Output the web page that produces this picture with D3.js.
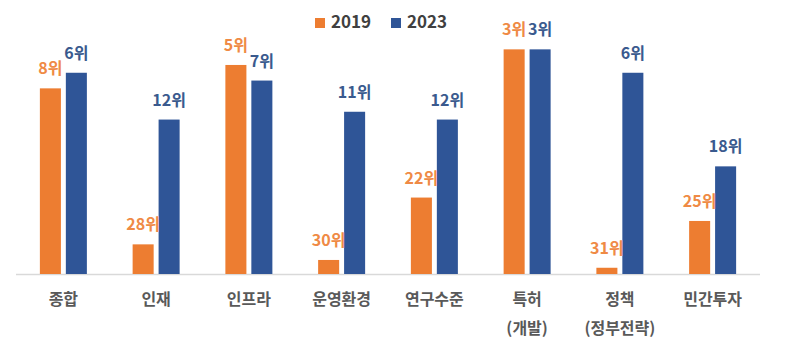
<!DOCTYPE html>
<html><head><meta charset="utf-8">
<script src="https://cdn.jsdelivr.net/npm/d3@7"></script>
<style>
html,body{margin:0;padding:0;background:#fff;}
svg{display:block;font-family:"Noto Sans CJK KR","Noto Sans",sans-serif;}
</style></head>
<body><svg id="c" width="785" height="346"></svg>
<script>
const categories = [["종합"],["인재"],["인프라"],["운영환경"],["연구수준"],["특허","(개발)"],["정책","(정부전략)"],["민간투자"]];
const series = ["2019","2023"];
const rank2019 = [8,28,5,30,22,3,31,25];
const rank2023 = [6,12,7,11,12,3,6,18];
const labelSuffix = "위";

const colors = {"2019":"#ED7D31","2023":"#2F5597"};
const textColors = {"2019":"#EF8A45","2023":"#3A5A8E"};

const svg = d3.select("#c");
const baseY = 274;
const keys = categories.map(c=>c.join(" "));
const x0 = d3.scaleBand().domain(keys).range([17,759]).padding(0);
const groupW = 47;
const x1 = d3.scaleBand().domain(series).range([(x0.bandwidth()-groupW)/2,(x0.bandwidth()+groupW)/2]).paddingInner(0.19).paddingOuter(0);
const y = d3.scaleLinear().domain([31.8,0]).range([baseY, baseY-31.8*7.8]);

const data = keys.map((k,i)=>({key:k, lines:categories[i], vals:[{s:"2019",v:rank2019[i]},{s:"2023",v:rank2023[i]}]}));

// axis line
svg.append("line").attr("x1",16).attr("x2",760).attr("y1",baseY+0.5).attr("y2",baseY+0.5)
  .attr("stroke","#D9D9D9").attr("stroke-width",1.5);

const g = svg.selectAll("g.grp").data(data).join("g").attr("class","grp")
  .attr("transform",d=>`translate(${x0(d.key)},0)`);

g.selectAll("rect").data(d=>d.vals).join("rect")
  .attr("x",d=>x1(d.s)).attr("width",x1.bandwidth())
  .attr("y",d=>y(d.v)).attr("height",d=>baseY-y(d.v))
  .attr("fill",d=>colors[d.s]);

g.selectAll("text.val").data(d=>d.vals).join("text").attr("class","val")
  .attr("x",d=>x1(d.s)+x1.bandwidth()/2).attr("y",d=>y(d.v)-14)
  .attr("text-anchor","middle").attr("font-size",16).attr("font-weight","bold")
  .attr("fill",d=>textColors[d.s]).text(d=>d.v+labelSuffix);

// category labels
g.each(function(d){
  const t = d3.select(this).append("text").attr("text-anchor","middle")
    .attr("font-size",16).attr("font-weight","bold").attr("fill","#595959");
  d.lines.forEach((ln,j)=>{
    t.append("tspan").attr("x",x0.bandwidth()/2).attr("y",305+j*29).text(ln);
  });
});

// legend
const leg = svg.append("g");
const legItems = [{s:"2019",x:315},{s:"2023",x:391}];
legItems.forEach(it=>{
  leg.append("rect").attr("x",it.x).attr("y",18).attr("width",10).attr("height",10).attr("fill",colors[it.s]);
  leg.append("text").attr("x",it.x+16).attr("y",28).attr("font-size",17).attr("font-weight","bold")
    .attr("fill","#404040").text(it.s);
});
</script></body></html>
